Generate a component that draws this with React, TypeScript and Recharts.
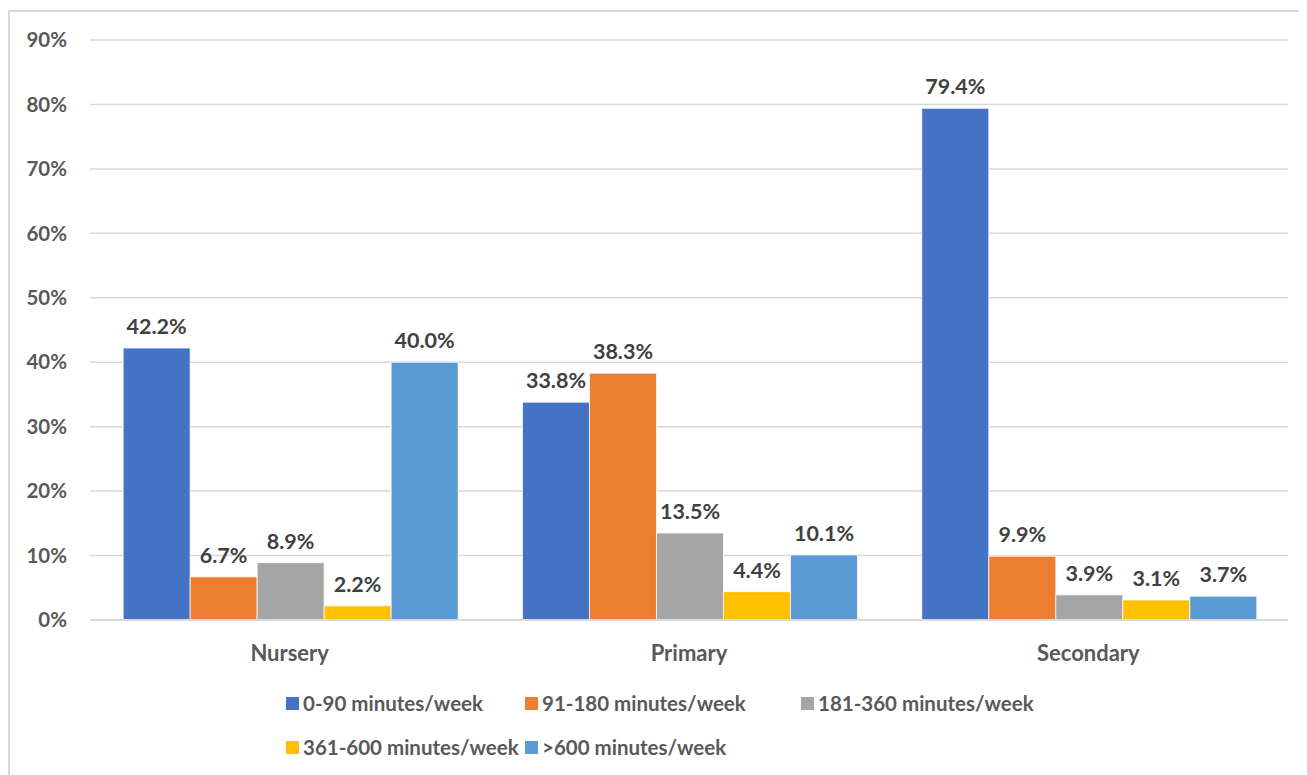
import React from "react";
import { BarChart, Bar, XAxis, YAxis, CartesianGrid, LabelList } from "recharts";

const categories = ["Nursery", "Primary", "Secondary"];
const seriesNames = [
  "0-90 minutes/week",
  "91-180 minutes/week",
  "181-360 minutes/week",
  "361-600 minutes/week",
  ">600 minutes/week",
];
const s0_90 = [42.2, 33.8, 79.4];
const s91_180 = [6.7, 38.3, 9.9];
const s181_360 = [8.9, 13.5, 3.9];
const s361_600 = [2.2, 4.4, 3.1];
const s600plus = [40.0, 10.1, 3.7];
const seriesValues = [s0_90, s91_180, s181_360, s361_600, s600plus];
const colors = ["#4472C4", "#ED7D31", "#A5A5A5", "#FFC000", "#5B9BD5"];
const yTicks = [0, 10, 20, 30, 40, 50, 60, 70, 80, 90];

const data = categories.map((c, i) => {
  const row: Record<string, number | string> = { name: c };
  seriesValues.forEach((s, k) => {
    row["s" + k] = s[i];
  });
  return row;
});

const FONT = "Lato, 'Open Sans', sans-serif";

export default function App() {
  return (
    <div style={{ position: "relative", width: 1299, height: 767, fontFamily: FONT, overflow: "hidden" }}>
      <div
        style={{
          position: "absolute",
          left: 0,
          top: 2,
          width: 1400,
          height: 900,
          borderLeft: "2px solid #d9d9d9",
          borderTop: "2px solid #d9d9d9",
          boxSizing: "border-box",
        }}
      />
      <BarChart
        width={1299}
        height={767}
        data={data}
        margin={{ top: 32, right: 19, left: 0, bottom: 115 }}
        barCategoryGap="8.3%"
        barGap={0}
        style={{ position: "absolute", left: 0, top: 0 }}
      >
        <CartesianGrid vertical={false} stroke="#d9d9d9" strokeWidth={1.5} />
        <XAxis
          dataKey="name"
          height={40}
          axisLine={{ stroke: "#d9d9d9", strokeWidth: 2 }}
          tickLine={false}
          tick={{ fill: "#595959", fontSize: 22, fontWeight: 700, fontFamily: FONT }}
          tickMargin={19}
        />
        <YAxis
          width={82}
          domain={[0, 90]}
          ticks={yTicks}
          interval={0}
          axisLine={false}
          tickLine={false}
          tickMargin={17}
          tickFormatter={(v: number) => `${v}%`}
          tick={{ fill: "#595959", fontSize: 20.5, fontWeight: 700, fontFamily: FONT }}
        />
        {seriesNames.map((n, k) => (
          <Bar
            key={n}
            dataKey={"s" + k}
            name={n}
            fill={colors[k]}
            stroke="#ffffff"
            strokeWidth={0.75}
            isAnimationActive={false}
          >
            <LabelList
              dataKey={"s" + k}
              position="top"
              offset={14}
              formatter={(v: number) => `${v.toFixed(1)}%`}
              style={{ fill: "#404040", fontSize: 21.5, fontWeight: 700, fontFamily: FONT }}
            />
          </Bar>
        ))}
      </BarChart>
      <div
        style={{
          position: "absolute",
          left: 278,
          top: 682,
          display: "grid",
          gridTemplateColumns: "239px 276px auto",
          rowGap: 18,
          fontSize: 20.5,
          fontWeight: 700,
          color: "#595959",
          fontFamily: FONT,
        }}
      >
        {seriesNames.map((n, k) => (
          <div key={n} style={{ display: "flex", alignItems: "center", height: 26, whiteSpace: "nowrap" }}>
            <span
              style={{ display: "inline-block", width: 13, height: 13, background: colors[k], marginRight: 4 }}
            />
            <span>{n}</span>
          </div>
        ))}
      </div>
    </div>
  );
}
